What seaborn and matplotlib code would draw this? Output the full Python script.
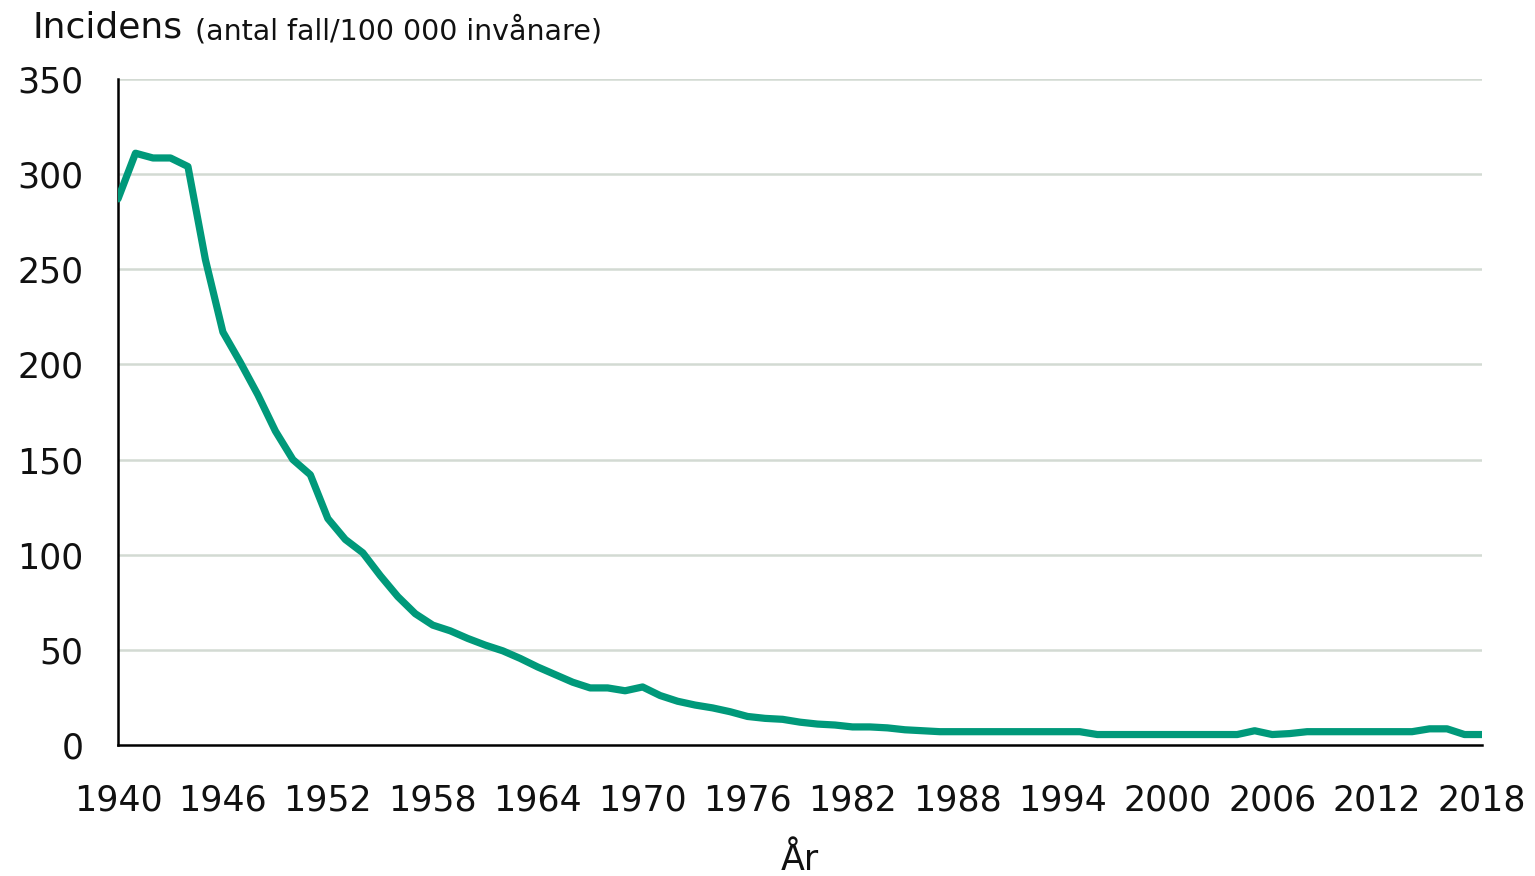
import numpy as np
import pandas as pd
import matplotlib
matplotlib.use("Agg")
import matplotlib.pyplot as plt
import seaborn as sns

# incidence per 100 000
years = list(range(1940, 2019))
incidence = [
    287, 311, 308.5, 308.5, 304, 255, 217, 201, 184, 165,   # 1940-49
    150, 142, 119, 108, 101, 89, 78, 69, 63, 60,            # 1950-59
    56, 52.5, 49.5, 45.5, 41, 37, 33, 30, 30, 28.5,          # 1960-69
    30.5, 26, 23, 21, 19.5, 17.5, 15, 14, 13.5, 12,          # 1970-79
    11, 10.5, 9.5, 9.5, 9, 8, 7.5, 7, 7, 7,                  # 1980-89
    7, 7, 7, 7, 7, 7, 5.5, 5.5, 5.5, 5.5,                    # 1990-99
    5.5, 5.5, 5.5, 5.5, 5.5, 7.5, 5.5, 6, 7, 7,              # 2000-09
    7, 7, 7, 7, 7, 8.5, 8.5, 5.5, 5.5,                       # 2010-18
]
xticks = list(range(1940, 2019, 6))
yticks = [0, 50, 100, 150, 200, 250, 300, 350]

title_main = "Incidens"
title_sub = "(antal fall/100 000 invånare)"
xlabel = "År"

df = pd.DataFrame({"year": years, "incidence": incidence})

sns.set_style("white")
plt.rcParams["font.family"] = ["DejaVu Sans"]

fig = plt.figure(figsize=(15.35, 8.76), dpi=100)
ax = fig.add_axes([118 / 1535, 1 - 745 / 876, (1482 - 118) / 1535, (745 - 79) / 876])

for v in yticks[1:]:
    ax.axhline(v, color="#d3dad3", lw=1.8, zorder=0)

sns.lineplot(data=df, x="year", y="incidence", color="#00997a", lw=5.2, ax=ax, zorder=3)

ax.set_xlim(1940, 2018)
ax.set_ylim(0, 350)
ax.set_xticks(xticks)
ax.set_yticks(yticks)
ax.tick_params(axis="both", direction="out", length=7, width=1.8, color="black",
               labelsize=25, labelcolor="#111111")
ax.tick_params(axis="y", pad=18)
ax.tick_params(axis="x", pad=21)
ax.set_xlabel(xlabel, fontsize=25, labelpad=18, color="#111111")
ax.set_ylabel("")

for s in ["top", "right"]:
    ax.spines[s].set_visible(False)
for s in ["left", "bottom"]:
    ax.spines[s].set_color("black")
    ax.spines[s].set_linewidth(1.8)

fig.text(33 / 1535, 1 - 28 / 876, title_main, fontsize=26, va="center", ha="left", color="#111111")
fig.text(195 / 1535, 1 - 31 / 876, title_sub, fontsize=20.5, va="center", ha="left", color="#111111")

fig.savefig("out.png", dpi=100)
